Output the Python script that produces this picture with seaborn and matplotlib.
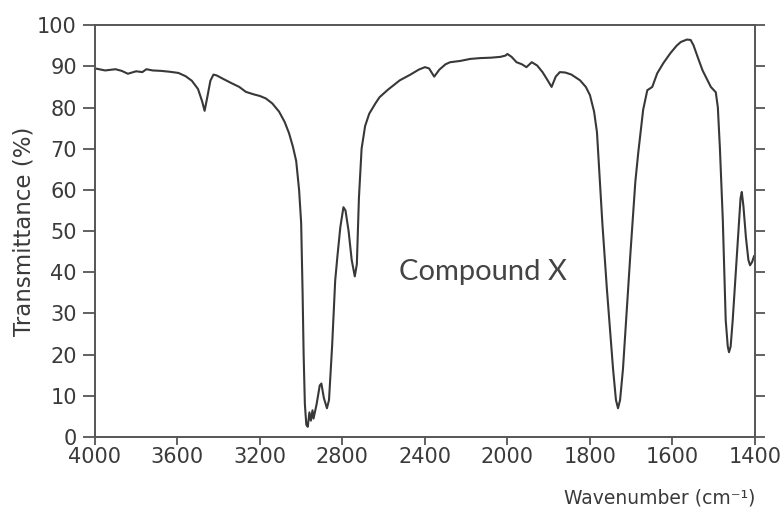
import numpy as np
import pandas as pd
import matplotlib
matplotlib.use("Agg")
import matplotlib.pyplot as plt
import seaborn as sns

# IR spectrum of compound X
wavenumber = [4000, 3950, 3900, 3870, 3840, 3800, 3770, 3750, 3720, 3680, 3640, 3595,
              3560, 3530, 3500, 3480, 3468, 3455, 3440, 3425, 3410, 3380, 3337, 3300,
              3268, 3230, 3200, 3171, 3140, 3107, 3080, 3059, 3040, 3024, 3010, 3000,
              2993, 2988, 2982, 2975, 2968, 2960, 2953, 2945, 2940, 2925, 2910, 2902,
              2890, 2875, 2865, 2850, 2835, 2824, 2810, 2795, 2785, 2770, 2755, 2740,
              2730, 2720, 2707, 2690, 2670, 2640, 2620, 2580, 2522, 2470, 2430, 2400,
              2380, 2355, 2330, 2300, 2278, 2230, 2180, 2132, 2080, 2034, 2010, 2000,
              1990, 1978, 1965, 1954, 1941, 1928, 1915, 1905, 1893, 1883, 1873, 1860,
              1845, 1824, 1810, 1800, 1790, 1783, 1776, 1770, 1759, 1744, 1737, 1732,
              1727, 1720, 1702, 1690, 1683, 1671, 1661, 1649, 1637, 1622, 1605, 1590,
              1580, 1565, 1556, 1549, 1538, 1527, 1507, 1495, 1490, 1485, 1478, 1471,
              1466, 1463, 1459, 1454, 1441, 1435, 1432, 1428, 1422, 1416, 1412, 1407,
              1402]
transmittance = [89.5, 89.0, 89.3, 88.9, 88.2, 88.8, 88.6, 89.3, 89.0, 88.9, 88.7, 88.4,
                 87.6, 86.5, 84.5, 81.5, 79.2, 82.5, 86.5, 88.0, 87.8, 87.0, 85.9, 85.0,
                 83.8, 83.2, 82.8, 82.2, 81.0, 79.0, 76.5, 73.8, 70.5, 67.0, 60.0, 52.0,
                 35.0, 20.0, 8.0, 3.0, 2.5, 6.0, 4.0, 6.5, 4.5, 8.0, 12.5, 13.0,
                 9.5, 7.0, 9.0, 22.0, 38.0, 44.0, 51.0, 55.8, 55.0, 50.0, 43.0, 39.0,
                 42.0, 58.0, 70.0, 75.5, 78.5, 81.0, 82.5, 84.3, 86.6, 88.0, 89.2, 89.8,
                 89.5, 87.5, 89.2, 90.5, 91.0, 91.3, 91.8, 92.0, 92.1, 92.3, 92.6, 93.0,
                 92.3, 91.0, 90.5, 89.8, 91.0, 90.2, 88.6, 87.0, 85.0, 87.5, 88.6, 88.5,
                 88.0, 86.6, 85.0, 83.0, 79.0, 74.0, 62.0, 52.0, 36.0, 16.5, 9.0, 7.0,
                 9.0, 16.5, 44.5, 62.0, 69.0, 79.5, 84.2, 85.0, 88.3, 90.8, 93.2, 95.0,
                 95.9, 96.5, 96.4, 95.1, 92.0, 89.0, 85.0, 83.7, 80.0, 70.0, 52.7, 28.4,
                 22.0, 20.6, 22.0, 28.4, 48.5, 58.0, 59.5, 56.0, 48.5, 43.0, 41.7, 42.5,
                 44.0]

x_ticks = [4000, 3600, 3200, 2800, 2400, 2000, 1800, 1600, 1400]
y_ticks = list(range(0, 101, 10))

df = pd.DataFrame({"wavenumber": wavenumber, "T": transmittance})


# scale changes at 2000 cm-1: below it, 200 per division instead of 400
def fwd(w):
    w = np.asarray(w, dtype=float)
    return np.where(w >= 2000, w, 2 * w - 2000)


def inv(u):
    u = np.asarray(u, dtype=float)
    return np.where(u >= 2000, u, (u + 2000) / 2)


sns.set_style("ticks")
plt.rcParams["font.family"] = ["DejaVu Sans"]
ink = "#3a3a3a"

fig = plt.figure(figsize=(7.84, 5.13), dpi=100)
ax = fig.add_axes([0.121, 0.148, 0.842, 0.803])

sns.lineplot(data=df, x="wavenumber", y="T", ax=ax, color="#383838",
             linewidth=1.5, estimator=None, sort=False)

ax.set_xscale("function", functions=(fwd, inv))
ax.set_xlim(4000, 1400)
ax.set_ylim(0, 100)
ax.set_xticks(x_ticks)
ax.set_xticklabels([str(t) for t in x_ticks])
ax.set_yticks(y_ticks)
ax.minorticks_off()

for s in ax.spines.values():
    s.set_color("#555555")
    s.set_linewidth(1.4)

ax.tick_params(axis="both", colors="#555555", labelcolor=ink, labelsize=15,
               width=1.3, direction="out")
ax.tick_params(axis="x", length=6, pad=1.5)
ax.tick_params(axis="y", length=9, pad=4, right=True)
for t in ax.yaxis.get_major_ticks():
    t.tick2line.set_markersize(7)

ax.set_ylabel("Transmittance (%)", fontsize=16.5, color=ink, labelpad=1)
ax.set_xlabel("Wavenumber (cm\u207b\u00b9)", fontsize=13.5, color=ink,
              loc="right", labelpad=15)

ax.text(0.588, 0.40, "Compound X", transform=ax.transAxes, ha="center",
        va="center", fontsize=21, color="#444444", family=["Lato", "DejaVu Sans"])

fig.savefig("out.png", dpi=100)
